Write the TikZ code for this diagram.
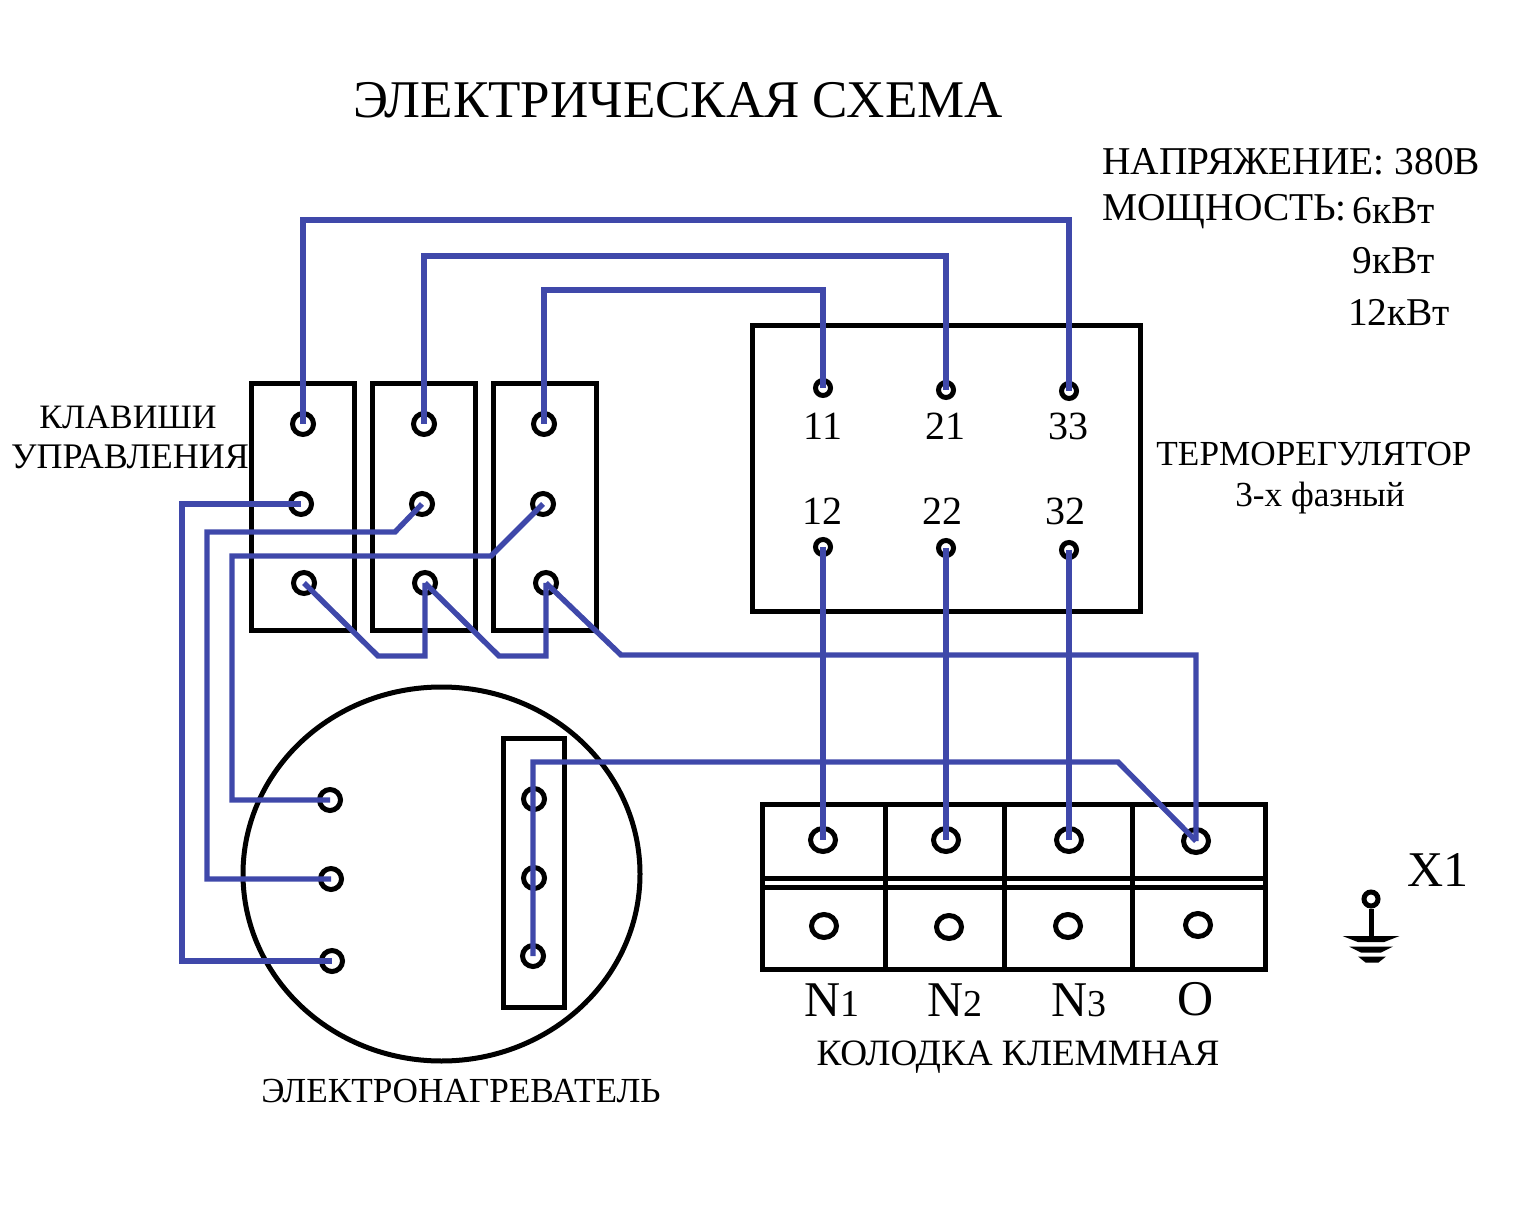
\documentclass[tikz,border=0pt]{standalone}
\usepackage{fontspec}
\setmainfont{Liberation Serif}
\usetikzlibrary{calc, shapes.geometric}
\definecolor{wireblue}{RGB}{63,72,170}
\tikzstyle{box}=[draw, line width=2.5pt, minimum width=51.5pt, minimum height=123pt, inner sep=0pt]
\tikzstyle{cell}=[draw, line width=2.5pt, inner sep=0pt, outer sep=0pt]
\tikzstyle{term}=[draw, circle, line width=2.5pt, minimum size=10.5pt, inner sep=0pt]
\tikzstyle{small}=[draw, circle, line width=2.5pt, minimum size=7.5pt, inner sep=0pt]
\tikzstyle{block}=[draw, ellipse, line width=2.5pt, minimum width=12.5pt, minimum height=11.5pt, inner sep=0pt]
\tikzstyle{bar}=[fill=black, trapezium, shape border rotate=180, trapezium angle=60, trapezium stretches=true, inner sep=0.2pt, outer sep=0pt, minimum height=3pt]
\tikzstyle{wire}=[draw=wireblue, line width=2.7pt, line join=miter]
\tikzstyle{lbl}=[inner sep=0pt, font=\fontsize{17.6}{18}\selectfont]
\tikzstyle{top}=[inner sep=0pt, font=\fontsize{19.7}{20}\selectfont]
\tikzstyle{num}=[inner sep=0pt, font=\fontsize{20}{20}\selectfont]
\tikzstyle{big}=[inner sep=0pt, font=\fontsize{25}{25}\selectfont]
\newcommand{\lilnum}[1]{{\fontsize{19}{19}\selectfont #1}}
\begin{document}
\begin{tikzpicture}[x=0.5pt,y=-0.5pt]
      \useasboundingbox (0,0) rectangle (1524,1218);

      % keys
      \node [box] (key1) at (302.5,507) {};
      \node [box] (key2) [right of=key1, node distance=60.5pt] {};
      \node [box] (key3) [right of=key2, node distance=60.5pt] {};

      \node [term] (k1a) at (303,424) {};
      \node [term] (k1b) [below of=k1a, node distance=40pt, xshift=-1pt] {};
      \node [term] (k1c) [below of=k1b, node distance=39.5pt, xshift=1.5pt] {};
      \node [term] (k2a) [right of=k1a, node distance=60.5pt] {};
      \node [term] (k2b) [right of=k1b, node distance=60.5pt] {};
      \node [term] (k2c) [right of=k1c, node distance=60.5pt] {};
      \node [term] (k3a) [right of=k2a, node distance=60pt] {};
      \node [term] (k3b) [right of=k2b, node distance=60.5pt] {};
      \node [term] (k3c) [right of=k2c, node distance=60.5pt] {};

      % thermostat
      \node [cell, minimum width=194pt, minimum height=142.5pt] (therm) at (946,468.5) {};
      \node [small] (t11) at (823,388) {};
      \node [small] (t21) at (946,390) {};
      \node [small] (t33) at (1069,391) {};
      \node [small] (t12) at (823,547) {};
      \node [small] (t22) at (946,548) {};
      \node [small] (t32) at (1069,550) {};
      \node [num] (n11) at (823,426) {11};
      \node [num] (n21) at (945,426) {21};
      \node [num] (n33) at (1068,426) {33};
      \node [num] (n12) at (822,511) {12};
      \node [num] (n22) at (942,511) {22};
      \node [num] (n32) at (1065,511) {32};

      % heater
      \node [draw, ellipse, line width=2.5pt, minimum width=198.5pt, minimum height=187pt, inner sep=0pt] (heater) at (441.5,874) {};
      \node [cell, minimum width=30.5pt, minimum height=134.5pt] (strip) at (533.5,872.5) {};
      \node [term] (h1) at (330,800) {};
      \node [term] (h2) at (331,879) {};
      \node [term] (h3) at (332,961) {};
      \node [term] (s1) at (534,799) {};
      \node [term] (s2) at (534,878) {};
      \node [term] (s3) at (533,956) {};

      % terminal block
      \node [cell, minimum width=61.5pt, minimum height=37pt] (c1) at (823.5,841) {};
      \node [cell, minimum width=59.5pt, minimum height=37pt] (c2) at (944.5,841) {};
      \node [cell, minimum width=64pt, minimum height=37pt] (c3) at (1068,841) {};
      \node [cell, minimum width=66.5pt, minimum height=37pt] (c4) at (1198.5,841) {};
      \node [cell, minimum width=61.5pt, minimum height=41pt] (d1) at (823.5,928) {};
      \node [cell, minimum width=59.5pt, minimum height=41pt] (d2) at (944.5,928) {};
      \node [cell, minimum width=64pt, minimum height=41pt] (d3) at (1068,928) {};
      \node [cell, minimum width=66.5pt, minimum height=41pt] (d4) at (1198.5,928) {};
      \draw[line width=2.5pt] (c1.south west) -- (d1.north west);
      \draw[line width=2.5pt] (c2.south west) -- (d2.north west);
      \draw[line width=2.5pt] (c3.south west) -- (d3.north west);
      \draw[line width=2.5pt] (c4.south west) -- (d4.north west);
      \draw[line width=2.5pt] (c4.south east) -- (d4.north east);
      \node [block] (b1) at (823,840) {};
      \node [block] (b2) at (946,840) {};
      \node [block] (b3) at (1069,840) {};
      \node [block] (b4) at (1196,841) {};
      \node [block] (e1) at (824,926) {};
      \node [block] (e2) at (949,927) {};
      \node [block] (e3) at (1068,926) {};
      \node [block] (e4) at (1198,925) {};

      % ground
      \node [draw, circle, line width=2.5pt, minimum size=7pt, inner sep=0pt] (gnd) at (1371,899) {};
      \node [bar, minimum width=28.5pt] (g1) at (1371,939) {};
      \node [bar, minimum width=22pt] (g2) at (1371,949.5) {};
      \node [bar, minimum width=14pt] (g3) at (1372,959.5) {};
      \draw[line width=2.5pt] (gnd) -- (g1);

      % wires
      \draw[wire] (k1a.center) -- (k1a.center |- 0,220) -| (t33.center);
      \draw[wire] (k2a.center) -- (k2a.center |- 0,256) -| (t21.center);
      \draw[wire] (k3a.center) -- (k3a.center |- 0,290) -| (t11.center);
      \draw[wire] (k1b.center) -- (182,504) |- (h3.center);
      \draw[wire] (k2b.center) -- (395,532) -- (207,532) |- (h2.center);
      \draw[wire] (k3b.center) -- (491,556) -- (232,556) |- (h1.center);
      \draw[wire] (k1c.center) -- (378,656) -| (k2c.center);
      \draw[wire] (k2c.center) -- (499,656) -| (k3c.center);
      \draw[wire] (k3c.center) -- (621,655) -| (b4.center);
      \draw[wire] (s3.center) |- (1118,762) -- (b4.center);
      \draw[wire] (t12.center) -- (b1.center);
      \draw[wire] (t22.center) -- (b2.center);
      \draw[wire] (t32.center) -- (b3.center);

      % labels
      \node [big, font=\fontsize{26.5}{27}\selectfont] (title) at (678,100) {ЭЛЕКТРИЧЕСКАЯ СХЕМА};
      \node [top, anchor=west] (volt) at (1102,162) {НАПРЯЖЕНИЕ: 380В};
      \node [top, anchor=west] (pow) at (1102,212) {МОЩНОСТЬ:};
      \node [top] (p6) at (1394,211) {6кВт};
      \node [top] (p9) at (1394,261) {9кВт};
      \node [top] (p12) at (1399,313) {12кВт};
      \node [lbl, font=\fontsize{17.1}{18}\selectfont] (keysa) at (128,417) {КЛАВИШИ};
      \node [lbl, font=\fontsize{18}{18}\selectfont] (keysb) at (130,457) {УПРАВЛЕНИЯ};
      \node [lbl] (tha) at (1314,454) {ТЕРМОРЕГУЛЯТОР};
      \node [lbl] (thb) at (1320,498) {3-х фазный};
      \node [lbl] (heat) at (461,1091) {ЭЛЕКТРОНАГРЕВАТЕЛЬ};
      \node [lbl, font=\fontsize{18.6}{19}\selectfont] (blk) at (1018,1057) {КОЛОДКА КЛЕММНАЯ};
      \node [big] (x1) at (1438,870) {X1};
      \node [big] (nn1) at (832,1000) {N\lilnum{1}};
      \node [big] (nn2) at (955,1000) {N\lilnum{2}};
      \node [big] (nn3) at (1079,1000) {N\lilnum{3}};
      \node [big] (nn0) at (1196,999) {O};
  \end{tikzpicture}
\end{document}
